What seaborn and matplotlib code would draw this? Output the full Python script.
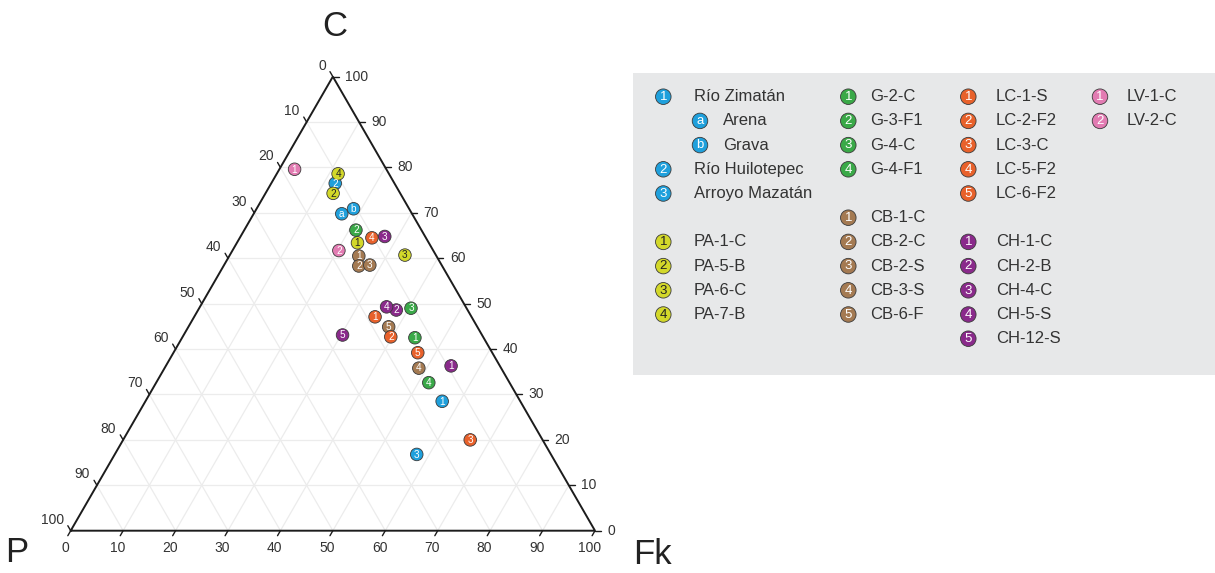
import numpy as np
import pandas as pd
import matplotlib
matplotlib.use("Agg")
import matplotlib.pyplot as plt
import seaborn as sns

sns.set_theme(style="white")
plt.rcParams["font.family"] = ["Liberation Sans", "DejaVu Sans"]

# ---- sample compositions (%): P, Fk, C ----
samples = ["Río Zimatán", "Arena", "Grava", "Río Huilotepec", "Arroyo Mazatán",
           "PA-1-C", "PA-5-B", "PA-6-C", "PA-7-B",
           "G-2-C", "G-3-F1", "G-4-C", "G-4-F1",
           "CB-1-C", "CB-2-C", "CB-2-S", "CB-3-S", "CB-6-F",
           "LC-1-S", "LC-2-F2", "LC-3-C", "LC-5-F2", "LC-6-F2",
           "CH-1-C", "CH-2-B", "CH-4-C", "CH-5-S", "CH-12-S",
           "LV-1-C", "LV-2-C"]
groups = ["Río"] * 5 + ["PA"] * 4 + ["G"] * 4 + ["CB"] * 5 + ["LC"] * 5 + ["CH"] * 5 + ["LV"] * 2
marks = ["1", "a", "b", "2", "3",
         "1", "2", "3", "4",
         "1", "2", "3", "4",
         "1", "2", "3", "4", "5",
         "1", "2", "3", "4", "5",
         "1", "2", "3", "4", "5",
         "1", "2"]
C_vals = [28.5, 69.8, 70.9, 76.5, 16.8,
          63.4, 74.3, 60.7, 78.6,
          42.5, 66.2, 49.0, 32.6,
          60.5, 58.3, 58.5, 35.8, 44.9,
          47.1, 42.7, 20.0, 64.5, 39.2,
          36.3, 48.6, 64.8, 49.3, 43.1,
          79.6, 61.7]
Fk_vals = [56.6, 16.8, 18.5, 12.2, 57.6,
           23.0, 12.9, 33.4, 11.7,
           44.4, 21.3, 40.4, 52.0,
           24.7, 25.8, 27.8, 48.5, 38.2,
           34.5, 39.7, 66.2, 25.2, 46.6,
           54.4, 37.8, 27.5, 35.6, 30.3,
           2.9, 20.3]
P_vals = [14.9, 13.4, 10.6, 11.3, 25.6,
          13.6, 12.8, 5.9, 9.7,
          13.1, 12.5, 10.6, 15.4,
          14.8, 15.9, 13.7, 15.7, 16.9,
          18.4, 17.6, 13.8, 10.3, 14.2,
          9.3, 13.6, 7.7, 15.1, 26.6,
          17.5, 18.0]
axis_ticks = list(range(0, 101, 10))

palette = {"Río": "#1fa0dc", "PA": "#d3d82a", "G": "#3aa948", "CB": "#a47a52",
           "LC": "#e8612b", "CH": "#8a2a8b", "LV": "#e27bb2"}
text_on = {g: ("#222222" if g == "PA" else "white") for g in palette}

# legend layout: (column, row) per sample
legend_cells = [(0, 0), (0, 1), (0, 2), (0, 3), (0, 4),
                (0, 6), (0, 7), (0, 8), (0, 9),
                (1, 0), (1, 1), (1, 2), (1, 3),
                (1, 5), (1, 6), (1, 7), (1, 8), (1, 9),
                (2, 0), (2, 1), (2, 2), (2, 3), (2, 4),
                (2, 6), (2, 7), (2, 8), (2, 9), (2, 10),
                (3, 0), (3, 1)]

W, H = 1215, 573
OX, OY, S = 70.7, 530.7, 5.243   # pixel origin of the P corner, pixels per unit
h = np.sqrt(3) / 2

fig = plt.figure(figsize=(W / 100, H / 100), dpi=100)
ax = fig.add_axes([0, 0, 1, 1])
ax.set_xlim(-OX / S, (W - OX) / S)
ax.set_ylim(-(H - OY) / S, OY / S)
ax.axis("off")


def px(xp, yp):
    return (xp - OX) / S, (OY - yp) / S


def cart(fk, c):
    return fk + c / 2, c * h


# grid
grid_kw = dict(color="#ececec", lw=0.9, zorder=1)
for v in range(10, 100, 10):
    ax.plot([v / 2, 100 - v / 2], [v * h, v * h], **grid_kw)
    ax.plot([v, v + (100 - v) / 2], [0, (100 - v) * h], **grid_kw)
    ax.plot([100 - v, (100 - v) / 2], [0, (100 - v) * h], **grid_kw)

# frame
ax.plot([0, 100, 50, 0], [0, 0, 100 * h, 0], color="#1c1c1c", lw=1.4,
        solid_joinstyle="miter", zorder=2)

# ticks and tick labels
L = 1.1
tick_kw = dict(color="#1c1c1c", lw=1.0, zorder=2)
lab_kw = dict(fontsize=10, color="#333333")
for v in axis_ticks:
    # C axis (right edge)
    x0, y0 = 100 - v / 2, v * h
    ax.plot([x0, x0 + L], [y0, y0], **tick_kw)
    ax.text(x0 + 2.3, y0, str(v), ha="left", va="center", **lab_kw)
    # P axis (left edge)
    x0, y0 = (100 - v) / 2, (100 - v) * h
    ax.plot([x0, x0 - 0.5 * L], [y0, y0 + h * L], **tick_kw)
    ax.text(x0 - 1.3, y0 + 2.1, str(v), ha="right", va="center", **lab_kw)
    # Fk axis (bottom edge)
    x0 = v
    ax.plot([x0, x0 - 0.5 * L], [0, -h * L], **tick_kw)
    ax.text(x0 - 1.1, -3.3, str(v), ha="center", va="center", **lab_kw)

# vertex labels
for name, (xp, yp) in {"C": (335, 26), "P": (17, 553), "Fk": (652, 554)}.items():
    xx, yy = px(xp, yp)
    ax.text(xx, yy, name, fontsize=25, color="#222222", ha="center", va="center")

# samples
xs, ys = zip(*[cart(f, c) for f, c in zip(Fk_vals, C_vals)])
df = pd.DataFrame({"sample": samples, "group": groups, "mark": marks,
                   "P": P_vals, "Fk": Fk_vals, "C": C_vals, "x": xs, "y": ys})
sns.scatterplot(data=df, x="x", y="y", hue="group", palette=palette, s=82,
                edgecolor="#3a3a3a", linewidth=0.6, legend=False, ax=ax, zorder=3)
for _, r in df.iterrows():
    ax.text(r.x, r.y - 0.05, r.mark, fontsize=7.2, color=text_on[r.group],
            ha="center", va="center", zorder=4)

# legend panel
lx0, ly0 = px(633, 375)
lx1, ly1 = px(W + 5, 73)
ax.add_patch(plt.Rectangle((lx0, ly0), lx1 - lx0, ly1 - ly0, facecolor="#e7e8e9",
                           edgecolor="none", zorder=0))
col_circle = [663.3, 848.3, 968.3, 1100.0]
col_text = [694.0, 870.0, 996.0, 1126.7]
row0, row_step = 96.7, 24.2
leg_x, leg_y, txt_x = [], [], []
for name, (col, row) in zip(samples, legend_cells):
    cx, tx = col_circle[col], col_text[col]
    if name in ("Arena", "Grava"):
        cx, tx = 700.0, 723.0
    yy = row0 + row * row_step
    a, b = px(cx, yy)
    leg_x.append(a)
    leg_y.append(b)
    txt_x.append(px(tx, yy)[0])
ldf = df.assign(lx=leg_x, ly=leg_y, tx=txt_x)
sns.scatterplot(data=ldf, x="lx", y="ly", hue="group", palette=palette, s=125,
                edgecolor="#3a3a3a", linewidth=0.6, legend=False, ax=ax, zorder=3)
for _, r in ldf.iterrows():
    ax.text(r.lx, r.ly - 0.05, r.mark, fontsize=9.5, color=text_on[r.group],
            ha="center", va="center", zorder=4)
    ax.text(r.tx, r.ly, r["sample"], fontsize=12, color="#333333",
            ha="left", va="center", zorder=4)

fig.savefig("out.png", dpi=100, facecolor="white")
